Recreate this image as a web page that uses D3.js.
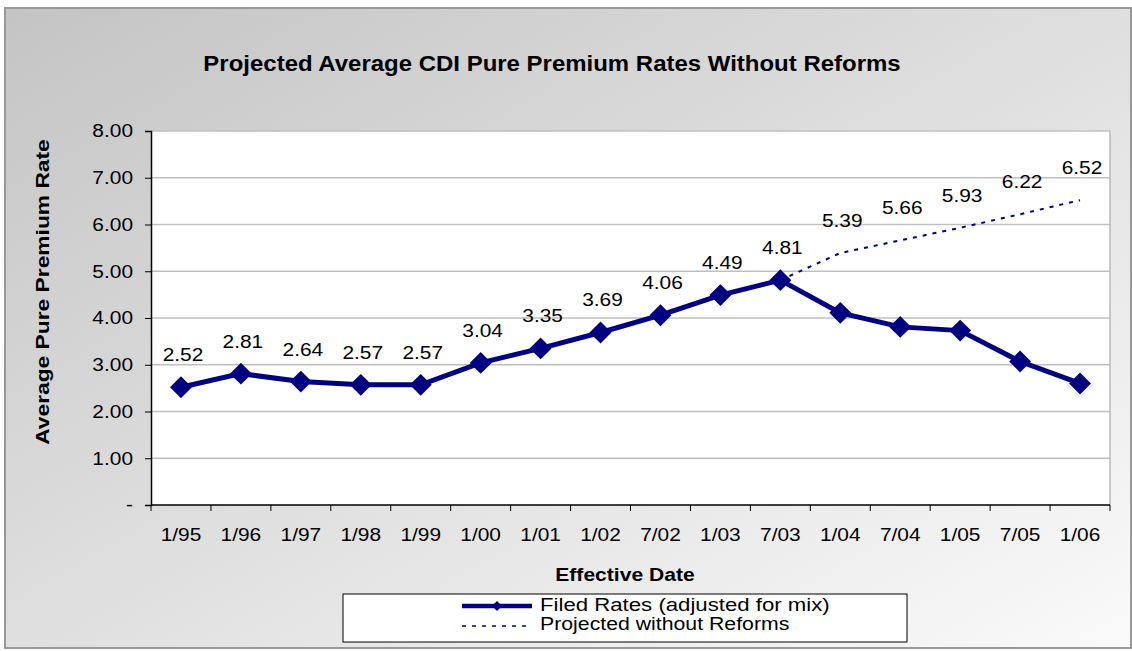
<!DOCTYPE html>
<html>
<head>
<meta charset="utf-8">
<script src="https://cdn.jsdelivr.net/npm/d3@7"></script>
<style>
  body { margin: 0; background: #fff; }
  text { font-family: Arial, "Liberation Sans", sans-serif; }
</style>
</head>
<body>
<main></main>
<script>
var dates = ['1/95', '1/96', '1/97', '1/98', '1/99', '1/00', '1/01', '1/02', '7/02', '1/03', '7/03', '1/04', '7/04', '1/05', '7/05', '1/06'];
var filed = [2.52, 2.81, 2.64, 2.57, 2.57, 3.04, 3.35, 3.69, 4.06, 4.49, 4.81, 4.11, 3.81, 3.73, 3.07, 2.60];
var projDates = ['7/03', '1/04', '7/04', '1/05', '7/05', '1/06'];
var projected = [4.81, 5.39, 5.66, 5.93, 6.22, 6.52];
var yTicks = [0, 1, 2, 3, 4, 5, 6, 7, 8];

!function(){
    var W = 1132, H = 651;
    var m = {l: 151, r: 1110, t: 131, b: 505};
    var SX = 1.16; // text in the original is drawn a bit wide

    let svg = d3.select('main').append('svg')
        .attr('width', W)
        .attr('height', H);

    // places a horizontally stretched text
    const label = (g, x, y, str, size, opts) => {
        opts = opts || {};
        var sx = opts.sx || SX;
        var rot = opts.rotate ? ' rotate(' + opts.rotate + ')' : '';
        return g.append('text')
            .attr('transform', 'translate(' + x + ',' + y + ')' + rot + ' scale(' + sx + ',1)')
            .attr('text-anchor', opts.anchor || 'start')
            .style('font-size', size + 'px')
            .style('font-weight', opts.bold ? 'bold' : 'normal')
            .attr('fill', '#000')
            .text(str);
    };

    let grad = svg.append('defs').append('linearGradient')
        .attr('id', 'bg')
        .attr('x1', '0%').attr('y1', '0%')
        .attr('x2', '100%').attr('y2', '100%');
    grad.append('stop').attr('offset', '0%').attr('stop-color', '#c4c4c4');
    grad.append('stop').attr('offset', '100%').attr('stop-color', '#fafafa');

    svg.append('rect')
        .attr('x', 5).attr('y', 8)
        .attr('width', W - 6).attr('height', 640)
        .attr('fill', 'url(#bg)')
        .attr('stroke', '#999')
        .attr('stroke-width', 2);

    let x = d3.scaleBand().domain(dates).range([m.l, m.r]);
    let y = d3.scaleLinear().domain([0, 8]).range([m.b, m.t]);
    let cx = d => x(d) + x.bandwidth() / 2;

    svg.append('rect')
        .attr('x', m.l).attr('y', m.t)
        .attr('width', m.r - m.l).attr('height', m.b - m.t)
        .attr('fill', '#fff');

    // gridlines
    svg.append('g').selectAll('line')
        .data(yTicks.slice(1))
        .join('line')
        .attr('x1', m.l).attr('x2', m.r)
        .attr('y1', d => y(d)).attr('y2', d => y(d))
        .attr('stroke', '#c0c0c0')
        .attr('stroke-width', 1.5);

    svg.append('line')
        .attr('x1', m.r).attr('x2', m.r)
        .attr('y1', m.t).attr('y2', m.b)
        .attr('stroke', '#b8b8b8')
        .attr('stroke-width', 1.5);

    let yAxis = d3.axisLeft(y).tickValues(yTicks).tickSize(6).tickPadding(0)
        .tickFormat(d => d === 0 ? '-' : d3.format('.2f')(d));
    let gy = svg.append('g')
        .attr('transform', 'translate(' + m.l + ',0)')
        .call(yAxis);
    gy.selectAll('text')
        .style('font-size', '18px').attr('fill', '#000')
        .attr('x', null)
        .attr('transform', 'translate(-18,0) scale(' + SX + ',1)');
    gy.select('.domain').attr('stroke-width', 1.5);

    let xAxis = d3.axisBottom(x).tickSize(0).tickPadding(0);
    let gx = svg.append('g')
        .attr('transform', 'translate(0,' + m.b + ')')
        .call(xAxis);
    gx.select('.domain').remove();
    gx.selectAll('text')
        .style('font-size', '18px').attr('fill', '#000')
        .attr('y', null).attr('dy', null)
        .attr('transform', 'translate(0,36) scale(' + SX + ',1)');
    gx.append('line')
        .attr('x1', m.l).attr('x2', m.r)
        .attr('stroke', '#000').attr('stroke-width', 1.5);
    gx.selectAll('.bt')
        .data(d3.range(dates.length + 1))
        .join('line')
        .attr('class', 'bt')
        .attr('x1', i => m.l + i * x.bandwidth())
        .attr('x2', i => m.l + i * x.bandwidth())
        .attr('y1', 0).attr('y2', 6)
        .attr('stroke', '#000');

    // projected dotted line
    svg.append('path')
        .datum(projected)
        .attr('d', d3.line().x((d, i) => cx(projDates[i])).y(d => y(d)))
        .attr('fill', 'none')
        .attr('stroke', '#000080')
        .attr('stroke-width', 2)
        .attr('stroke-dasharray', '4,6');

    svg.append('path')
        .datum(filed)
        .attr('d', d3.line().x((d, i) => cx(dates[i])).y(d => y(d)))
        .attr('fill', 'none')
        .attr('stroke', '#000080')
        .attr('stroke-width', 5);

    let diamond = d3.symbol().type(d3.symbolSquare).size(240);
    svg.append('g').selectAll('path')
        .data(filed)
        .join('path')
        .attr('d', diamond)
        .attr('transform', (d, i) => 'translate(' + cx(dates[i]) + ',' + y(d) + ') rotate(45)')
        .attr('fill', '#000080');

    // data labels
    let labelData = filed.slice(0, 11).map((v, i) => ({k: dates[i], v: v}))
        .concat(projected.slice(1).map((v, i) => ({k: projDates[i + 1], v: v})));
    let gl = svg.append('g');
    labelData.forEach(d => {
        label(gl, cx(d.k) + 2, y(d.v) - 26, d3.format('.2f')(d.v), 18, {anchor: 'middle'});
    });

    label(svg, 552, 71, 'Projected Average CDI Pure Premium Rates Without Reforms', 22,
        {anchor: 'middle', bold: true, sx: 1.09});
    label(svg, 49, 292, 'Average Pure Premium Rate', 19,
        {anchor: 'middle', bold: true, rotate: -90, sx: 1.2});
    label(svg, 625, 581, 'Effective Date', 19, {anchor: 'middle', bold: true, sx: 1.11});

    // legend
    let lg = svg.append('g');
    lg.append('rect')
        .attr('x', 343).attr('y', 594)
        .attr('width', 564).attr('height', 48)
        .attr('fill', '#fff').attr('stroke', '#000');
    lg.append('line')
        .attr('x1', 462).attr('x2', 532).attr('y1', 606).attr('y2', 606)
        .attr('stroke', '#000080').attr('stroke-width', 4.5);
    lg.append('path')
        .attr('d', d3.symbol().type(d3.symbolSquare).size(50))
        .attr('transform', 'translate(497,606) rotate(45)')
        .attr('fill', '#000080');
    lg.append('line')
        .attr('x1', 462).attr('x2', 532).attr('y1', 626).attr('y2', 626)
        .attr('stroke', '#000080').attr('stroke-width', 1.5)
        .attr('stroke-dasharray', '4,6');
    label(lg, 540, 611, 'Filed Rates (adjusted for mix)', 18.5, {sx: 1.2});
    label(lg, 540, 630, 'Projected without Reforms', 18.5, {sx: 1.15});
}();
</script>
</body>
</html>
